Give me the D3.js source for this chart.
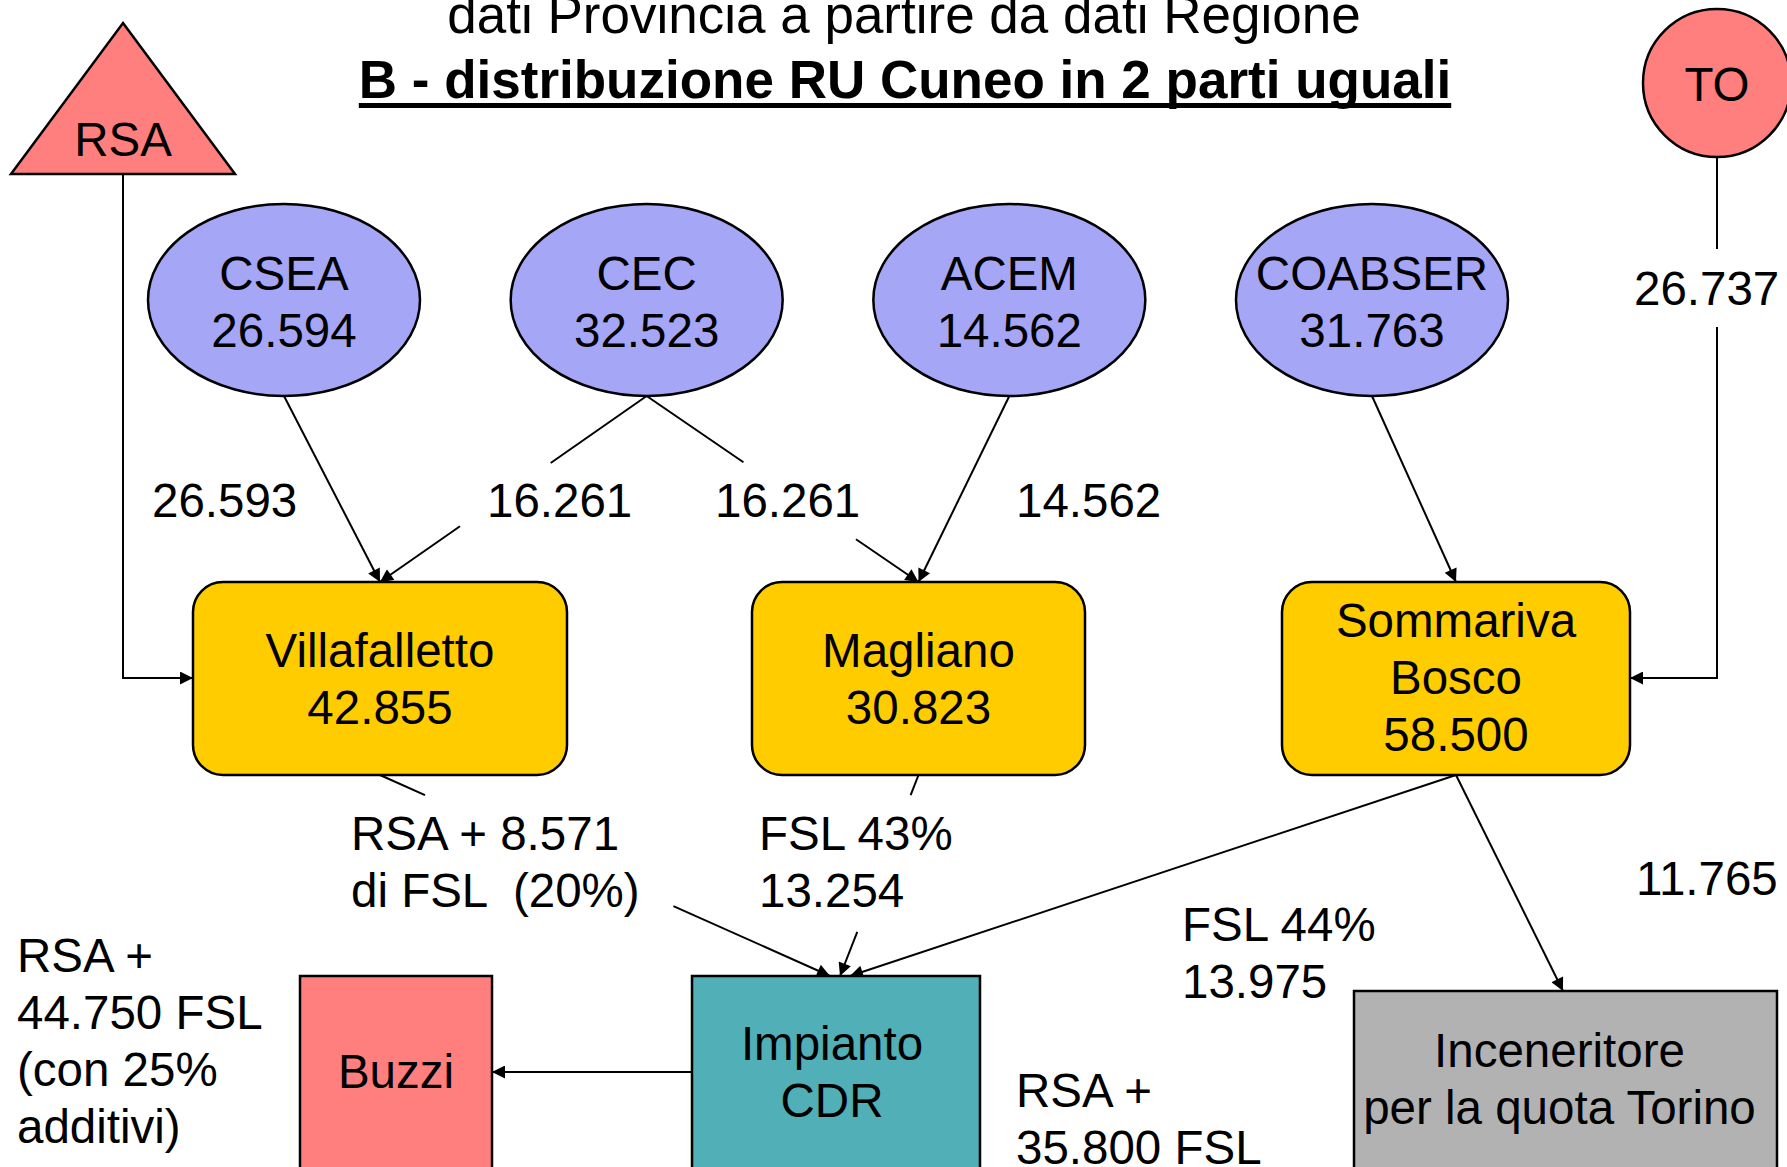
<!DOCTYPE html>
<html>
<head>
<meta charset="utf-8">
<script src="https://cdn.jsdelivr.net/npm/d3@7"></script>
<style>
  html, body { margin: 0; padding: 0; background: #fff; }
  svg { display: block; font-family: "Liberation Sans", Arial, Helvetica, sans-serif; }
  text { white-space: pre; }
</style>
</head>
<body>
<div id="chart"></div>
<script>
// --- dati (tonnellate RU) ---
const titleLines   = ['dati Provincia a partire da dati Regione', 'B - distribuzione RU Cuneo in 2 parti uguali'];
const consorzi     = ['CSEA', 'CEC', 'ACEM', 'COABSER'];
const consorziRU   = ['26.594', '32.523', '14.562', '31.763'];
const impianti     = ['Villafalletto', 'Magliano', 'Sommariva Bosco'];
const impiantiRU   = ['42.855', '30.823', '58.500'];
const impiantiRighe = [['Villafalletto'], ['Magliano'], ['Sommariva', 'Bosco']];
const destinazioni = ['Buzzi', 'Impianto CDR', 'Inceneritore'];
const destRighe    = [['Buzzi'], ['Impianto', 'CDR'], ['Inceneritore', 'per la quota Torino']];
const sorgenti     = ['RSA', 'TO'];

// flussi: da, a, etichetta
const flussiIn  = [['CSEA', 'Villafalletto'], ['CEC', 'Villafalletto'], ['CEC', 'Magliano'], ['ACEM', 'Magliano'], ['COABSER', 'Sommariva Bosco']];
const flussiInLbl = ['26.593', '16.261', '16.261', '14.562', ''];
const flussiOut = [['Villafalletto', 'Impianto CDR'], ['Magliano', 'Impianto CDR'], ['Sommariva Bosco', 'Impianto CDR'], ['Sommariva Bosco', 'Inceneritore'], ['Impianto CDR', 'Buzzi']];
const flussiOutLbl = [['RSA + 8.571', 'di FSL  (20%)'], ['FSL 43%', '13.254'], ['FSL 44%', '13.975'], ['11.765'], ['RSA +', '44.750 FSL', '(con 25%', 'additivi)']];
const toLbl = '26.737';
const cdrLbl = ['RSA +', '35.800 FSL'];

// --- layout ---
const W = 1787, H = 1167;
const FS = 47.5, LH = 57;

const svg = d3.select('#chart').append('svg')
  .attr('width', W).attr('height', H)
  .attr('viewBox', `0 0 ${W} ${H}`);

svg.append('defs').append('marker')
  .attr('id', 'arr')
  .attr('viewBox', '0 0 10 10')
  .attr('refX', 10).attr('refY', 5)
  .attr('markerWidth', 16).attr('markerHeight', 13)
  .attr('markerUnits', 'userSpaceOnUse')
  .attr('orient', 'auto')
  .append('path').attr('d', 'M0,0L10,5L0,10z').attr('fill', '#000');

const xCons = d3.scalePoint().domain(consorzi).range([284, 1372]);
const ell = { cy: 300, rx: 136, ry: 96 };

const boxPlant = {
  'Villafalletto':   { x: 193,  w: 374 },
  'Magliano':        { x: 752,  w: 333 },
  'Sommariva Bosco': { x: 1282, w: 348 }
};
const plantY = 582, plantH = 193;

const boxDest = {
  'Buzzi':        { x: 300,  y: 976, w: 192, fill: '#ff7f7f', ty: 1088, dx: 0 },
  'Impianto CDR': { x: 692,  y: 976, w: 288, fill: '#50afb7', ty: 1060, dx: -4 },
  'Inceneritore': { x: 1354, y: 991, w: 423, fill: '#b2b2b2', ty: 1067, dx: -6 }
};

function multiText(g, lines, x, y0, anchor) {
  const t = g.append('text')
    .attr('x', x).attr('y', y0)
    .attr('font-size', FS)
    .attr('text-anchor', anchor || 'middle')
    .attr('fill', '#000');
  lines.forEach((l, i) => {
    t.append('tspan').attr('x', x).attr('y', y0 + i * LH).text(l);
  });
  return t;
}

// --- titolo ---
const tg = svg.append('g');
tg.append('text').attr('x', 904).attr('y', 33)
  .attr('font-size', 53).attr('text-anchor', 'middle').text(titleLines[0]);
const t2 = tg.append('text').attr('x', 905).attr('y', 98)
  .attr('font-size', 53).attr('font-weight', 'bold').attr('text-anchor', 'middle').text(titleLines[1]);
const bb = t2.node().getBBox();
tg.append('rect').attr('x', bb.x).attr('y', 103).attr('width', bb.width).attr('height', 5).attr('fill', '#000');

// --- linee ---
const lines = svg.append('g').attr('stroke', '#000').attr('stroke-width', 2).attr('fill', 'none');

function seg(p, q, t0, t1, arrow) {
  const a = [p[0] + (q[0] - p[0]) * t0, p[1] + (q[1] - p[1]) * t0];
  const b = [p[0] + (q[0] - p[0]) * t1, p[1] + (q[1] - p[1]) * t1];
  const l = lines.append('line').attr('x1', a[0]).attr('y1', a[1]).attr('x2', b[0]).attr('y2', b[1]);
  if (arrow) l.attr('marker-end', 'url(#arr)');
}

// consorzi -> impianti (con interruzioni per le etichette)
const gapsIn = [null, [0.36, 0.70], [0.356, 0.77], null, null];
flussiIn.forEach(([s, d], i) => {
  const p = [xCons(s), ell.cy + ell.ry];
  const bp = boxPlant[d];
  const q = [bp.x + bp.w / 2, plantY];
  const gap = gapsIn[i];
  if (gap) { seg(p, q, 0, gap[0], false); seg(p, q, gap[1], 1, true); }
  else seg(p, q, 0, 1, true);
});

// impianti -> destinazioni
const outEnd = [-6, 4, 14, 0];
const gapsOut = [[0.1, 0.652], [0.1, 0.78], null, null];
flussiOut.slice(0, 4).forEach(([s, d], i) => {
  const bp = boxPlant[s];
  const bd = boxDest[d];
  const p = [bp.x + bp.w / 2, plantY + plantH];
  const q = d === 'Inceneritore' ? [1563, bd.y] : [bd.x + bd.w / 2 + outEnd[i], bd.y];
  const gap = gapsOut[i];
  if (gap) { seg(p, q, 0, gap[0], false); seg(p, q, gap[1], 1, true); }
  else seg(p, q, 0, 1, true);
});

// CDR -> Buzzi
const cdr = boxDest['Impianto CDR'], buz = boxDest['Buzzi'];
seg([cdr.x, 1072], [buz.x + buz.w, 1072], 0, 1, true);

// RSA -> Villafalletto
const vf = boxPlant['Villafalletto'];
lines.append('path').attr('d', `M123,174V678H${vf.x}`).attr('marker-end', 'url(#arr)');

// TO -> Sommariva Bosco
const sb = boxPlant['Sommariva Bosco'];
lines.append('path').attr('d', 'M1717,157V249');
lines.append('path').attr('d', `M1717,327V678H${sb.x + sb.w}`).attr('marker-end', 'url(#arr)');

// --- forme ---
const shapes = svg.append('g').attr('stroke', '#000').attr('stroke-width', 2.5);

// RSA triangolo
shapes.append('path').attr('d', 'M123,23L235,174L11,174Z').attr('fill', '#ff7f7f');
multiText(svg, [sorgenti[0]], 123, 156);

// TO cerchio
shapes.append('circle').attr('cx', 1717).attr('cy', 83).attr('r', 74).attr('fill', '#ff7f7f');
multiText(svg, [sorgenti[1]], 1717, 101);

// consorzi
consorzi.forEach((c, i) => {
  shapes.append('ellipse')
    .attr('cx', xCons(c)).attr('cy', ell.cy)
    .attr('rx', ell.rx).attr('ry', ell.ry)
    .attr('fill', '#a5a6f6');
  multiText(svg, [c, consorziRU[i]], xCons(c), 290);
});

// impianti
impianti.forEach((p, i) => {
  const b = boxPlant[p];
  shapes.append('rect')
    .attr('x', b.x).attr('y', plantY).attr('width', b.w).attr('height', plantH)
    .attr('rx', 30).attr('ry', 30)
    .attr('fill', '#ffcc00');
  const rows = impiantiRighe[i].concat([impiantiRU[i]]);
  const y0 = rows.length === 3 ? 637 : 667;
  multiText(svg, rows, b.x + b.w / 2, y0);
});

// destinazioni
destinazioni.forEach((d, i) => {
  const b = boxDest[d];
  shapes.append('rect')
    .attr('x', b.x).attr('y', b.y).attr('width', b.w).attr('height', H - b.y + 20)
    .attr('fill', b.fill);
  multiText(svg, destRighe[i], b.x + b.w / 2 + b.dx, b.ty);
});

// --- etichette flussi ---
const inPos = [[152, 517], [487, 517], [715, 517], [1016, 517]];
flussiInLbl.forEach((l, i) => { if (l) multiText(svg, [l], inPos[i][0], inPos[i][1], 'start'); });

const outPos = [[351, 850], [759, 850], [1182, 941], [1636, 895], [17, 972]];
flussiOutLbl.forEach((l, i) => multiText(svg, l, outPos[i][0], outPos[i][1], 'start'));

multiText(svg, [toLbl], 1634, 305, 'start');
multiText(svg, cdrLbl, 1016, 1107, 'start');
</script>
</body>
</html>
